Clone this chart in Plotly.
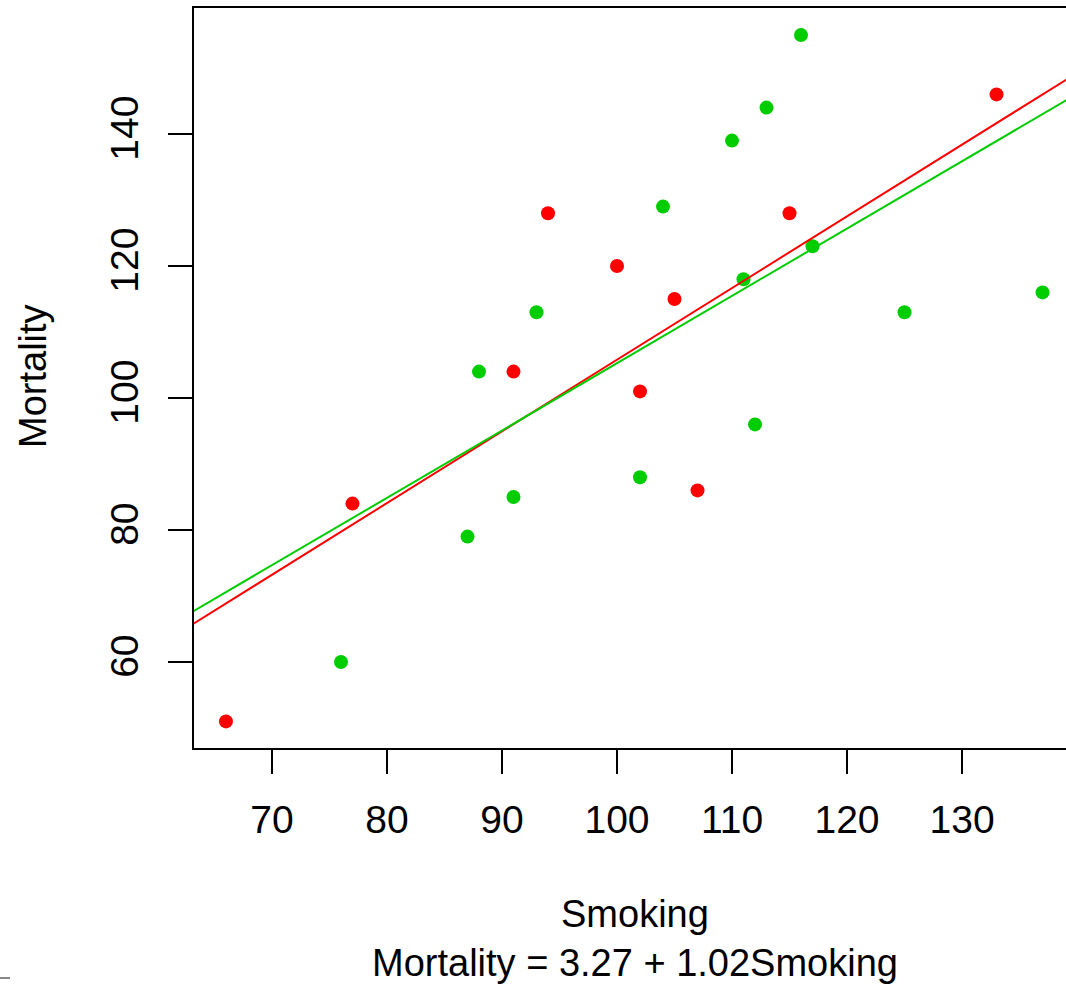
import plotly.graph_objects as go

# Data
red_smoking = [66, 77, 91, 94, 100, 102, 105, 107, 115, 133]
red_mortality = [51, 84, 104, 128, 120, 101, 115, 86, 128, 146]
green_smoking = [76, 87, 88, 91, 93, 102, 104, 110, 111, 112, 113, 116, 117, 125, 137]
green_mortality = [60, 79, 104, 85, 113, 88, 129, 139, 118, 96, 144, 155, 123, 113, 116]

# fitted lines (intercept, slope)
red_fit = [-2.8, 1.086]
green_fit = [3.27, 1.02]

x_ticks = [70, 80, 90, 100, 110, 120, 130]
y_ticks = [60, 80, 100, 120, 140]
x_range = [63.22, 139.04]
y_range = [46.97, 159.09]

RED = "#FF0000"
GREEN = "#00CD00"
FONT = "Liberation Sans, Arial, sans-serif"
TICK_SIZE = 39
TITLE_SIZE = 38

fig = go.Figure()
fig.add_trace(go.Scatter(x=red_smoking, y=red_mortality, mode="markers",
                         marker=dict(color=RED, size=14, line=dict(width=0)),
                         showlegend=False, hoverinfo="skip"))
fig.add_trace(go.Scatter(x=green_smoking, y=green_mortality, mode="markers",
                         marker=dict(color=GREEN, size=14, line=dict(width=0)),
                         showlegend=False, hoverinfo="skip"))

line_x = [x_range[0] - 5, x_range[1] + 5]
for fit, col in [(red_fit, RED), (green_fit, GREEN)]:
    fig.add_trace(go.Scatter(x=line_x, y=[fit[0] + fit[1] * v for v in line_x],
                             mode="lines", line=dict(color=col, width=2),
                             showlegend=False, hoverinfo="skip"))

L, T, W, H = 194, 8, 1066, 985
B = 748
plot_w = W - L
plot_h = B - T

fig.update_layout(
    width=W, height=H,
    margin=dict(l=L, r=0, t=T, b=H - B, pad=0),
    plot_bgcolor="white", paper_bgcolor="white",
    font=dict(family=FONT, size=TITLE_SIZE, color="black"),
    xaxis=dict(range=x_range, tickvals=x_ticks, showgrid=False, zeroline=False,
               showline=True, linecolor="black", linewidth=2, mirror=True,
               ticks="outside", ticklen=24, tickwidth=2, tickcolor="black",
               ticklabelstandoff=12,
               tickfont=dict(family=FONT, size=TICK_SIZE, color="black")),
    yaxis=dict(range=y_range, tickvals=y_ticks, showgrid=False, zeroline=False,
               showline=True, linecolor="black", linewidth=2, mirror=False,
               ticks="outside", ticklen=24, tickwidth=2, tickcolor="black",
               tickangle=-90, ticklabelstandoff=14,
               tickfont=dict(family=FONT, size=TICK_SIZE, color="black")),
    showlegend=False,
)

cx = (635 - L) / plot_w
fig.add_annotation(text="Smoking", xref="paper", yref="paper",
                   x=cx, y=-(914 - B) / plot_h, showarrow=False,
                   xanchor="center", yanchor="middle",
                   font=dict(family=FONT, size=TITLE_SIZE, color="black"))
fig.add_annotation(text="Mortality = 3.27 + 1.02Smoking", xref="paper", yref="paper",
                   x=cx, y=-(963 - B) / plot_h, showarrow=False,
                   xanchor="center", yanchor="middle",
                   font=dict(family=FONT, size=TITLE_SIZE, color="black"))
fig.add_annotation(text="Mortality", xref="paper", yref="paper",
                   x=-(L - 33) / plot_w, y=(B - 376) / plot_h, showarrow=False,
                   textangle=-90, xanchor="center", yanchor="middle",
                   font=dict(family=FONT, size=TITLE_SIZE, color="black"))

# small grey mark at bottom-left corner
fig.add_shape(type="line", xref="paper", yref="paper",
              x0=-L / plot_w, x1=-(L - 10) / plot_w,
              y0=-(978 - B) / plot_h, y1=-(978 - B) / plot_h,
              line=dict(color="#888888", width=2))

fig.write_html("out.html")
